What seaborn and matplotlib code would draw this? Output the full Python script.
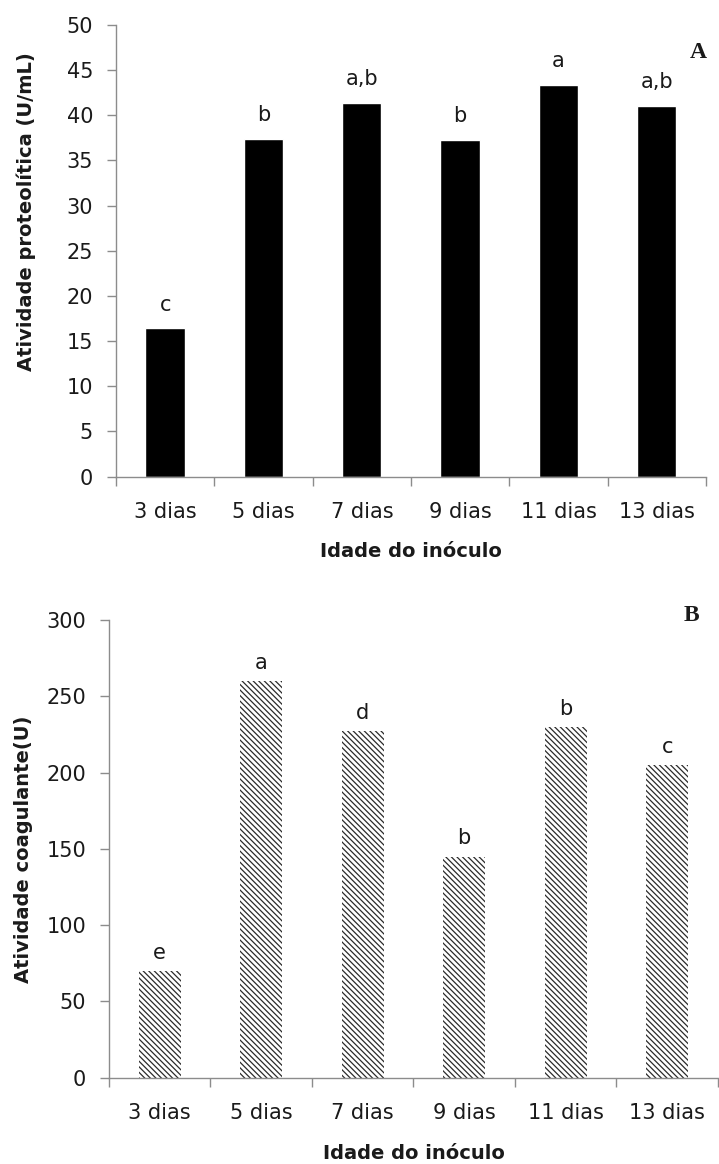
import numpy as np
import pandas as pd
import matplotlib
matplotlib.use("Agg")
import matplotlib.pyplot as plt
import seaborn as sns

# ------------------------------------------------------------
# Data
# ------------------------------------------------------------
dias = ["3 dias", "5 dias", "7 dias", "9 dias", "11 dias", "13 dias"]
proteolitica = [16.4, 37.4, 41.4, 37.3, 43.4, 41.0]
letras_prot = ["c", "b", "a,b", "b", "a", "a,b"]
coagulante = [70, 260, 227, 145, 230, 205]
letras_coag = ["e", "a", "d", "b", "b", "c"]

df_a = pd.DataFrame({"idade": dias, "valor": proteolitica})
df_b = pd.DataFrame({"idade": dias, "valor": coagulante})

# ------------------------------------------------------------
# Style
# ------------------------------------------------------------
sns.set_style("ticks")
plt.rcParams["font.family"] = ["DejaVu Sans"]
plt.rcParams["hatch.linewidth"] = 0.9
GREY = "#8c8c8c"
TXT = "#1a1a1a"

fig = plt.figure(figsize=(7.19, 11.64), dpi=100)
ax_a = fig.add_axes([0.1613, 0.5905, 0.8206, 0.3881])
ax_b = fig.add_axes([0.1516, 0.0741, 0.8470, 0.3932])


def style_axis(ax, ymax, ystep, ylabel, label_xy, letters, values, off):
    ax.set_xlim(-0.5, 5.5)
    ax.set_ylim(0, ymax)
    ax.set_yticks(np.arange(0, ymax + 1, ystep))
    sns.despine(ax=ax)
    for s in ["left", "bottom"]:
        ax.spines[s].set_color(GREY)
        ax.spines[s].set_linewidth(1.0)
    ax.tick_params(axis="y", length=6.5, width=1.0, color=GREY, pad=10,
                   labelsize=15, labelcolor=TXT)
    ax.tick_params(axis="x", which="major", length=0, pad=18,
                   labelsize=15, labelcolor=TXT)
    ax.set_xticks(np.arange(-0.5, 6, 1), minor=True)
    ax.tick_params(axis="x", which="minor", length=6.5, width=1.0,
                   color=GREY, direction="out")
    ax.set_xlabel("Idade do inóculo", fontsize=14, fontweight="bold",
                  color=TXT, labelpad=15)
    ax.set_ylabel(ylabel, fontsize=14, fontweight="bold", color=TXT)
    ax.yaxis.set_label_coords(*label_xy)
    for i, (lt, v) in enumerate(zip(letters, values)):
        ax.annotate(lt, (i, v), xytext=(0, off), textcoords="offset points",
                    ha="center", va="bottom", fontsize=15, color=TXT)


# Panel A: solid black bars
sns.barplot(data=df_a, x="idade", y="valor", order=dias, color="black",
            saturation=1, width=0.4, errorbar=None, ax=ax_a)
style_axis(ax_a, 50, 5, "Atividade proteolítica (U/mL)", (-0.135, 0.586),
           letras_prot, proteolitica, 10)

# Panel B: hatched bars
sns.barplot(data=df_b, x="idade", y="valor", order=dias, color="white",
            saturation=1, width=0.41, errorbar=None, ax=ax_b,
            edgecolor="#2b2b2b", linewidth=0, hatch="\\\\\\\\\\\\")
style_axis(ax_b, 300, 50, "Atividade coagulante(U)", (-0.125, 0.5),
           letras_coag, coagulante, 6)

fig.text(0.971, 0.9553, "A", fontsize=17, fontweight="bold",
         family=["Liberation Serif"], ha="center", va="center", color=TXT)
fig.text(0.961, 0.4708, "B", fontsize=17, fontweight="bold",
         family=["Liberation Serif"], ha="center", va="center", color=TXT)

fig.savefig("out.png", dpi=100)
